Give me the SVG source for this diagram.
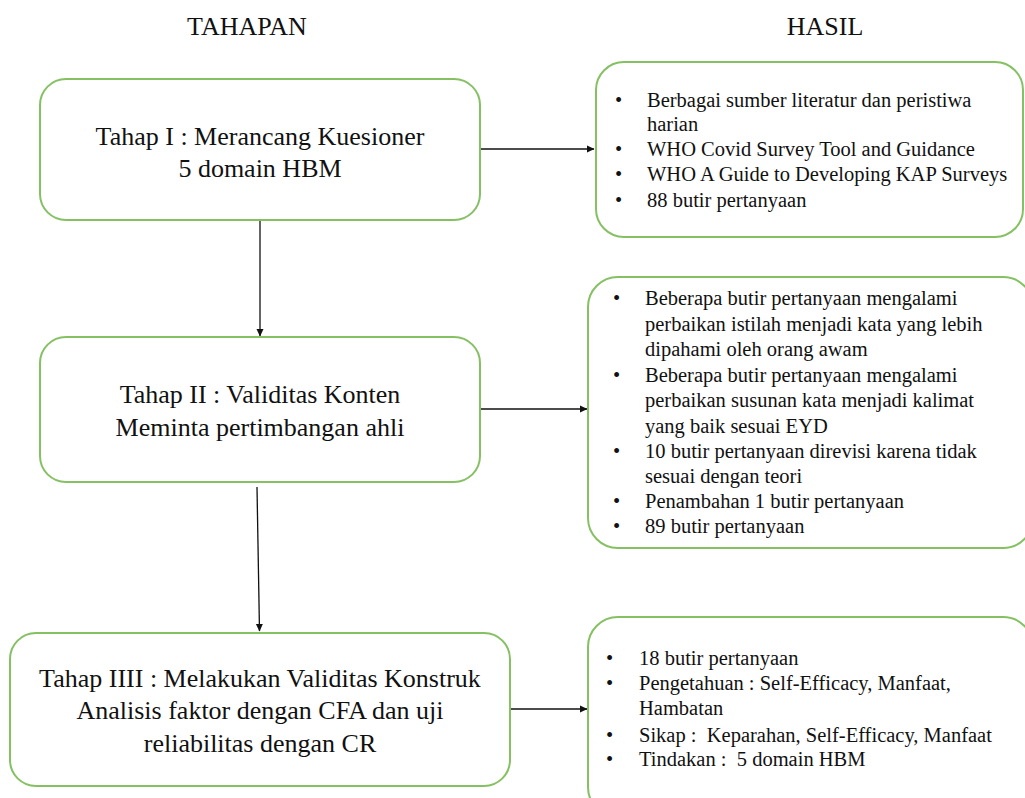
<svg xmlns="http://www.w3.org/2000/svg" width="1025" height="798" viewBox="0 0 1025 798">
<style>
.box{fill:#fff;stroke:#85c063;stroke-width:2}
.t{font-family:"Liberation Serif","Times New Roman",serif;fill:#111;white-space:pre}
.c{font-size:26px;text-anchor:middle}
.r{font-size:20.5px}
.h{font-size:26px;text-anchor:middle}
.ln{stroke:#111;stroke-width:1.3;fill:none;marker-end:url(#ah)}
</style>
<defs>
<marker id="ah" markerWidth="8" markerHeight="8" refX="7" refY="4" orient="auto" markerUnits="userSpaceOnUse">
<path d="M0,0.5 L7.5,4 L0,7.5 Z" fill="#111"/>
</marker>
</defs>
<rect width="1025" height="798" fill="#fff"/>
<g id="headers">
<text class="t h" x="247" y="35">TAHAPAN</text>
<text class="t h" x="825" y="35">HASIL</text>
</g>
<g id="connectors">
<line class="ln" x1="480" y1="149" x2="594" y2="149"/>
<line class="ln" x1="260" y1="220" x2="260" y2="336"/>
<line class="ln" x1="480" y1="409" x2="587" y2="409"/>
<line class="ln" x1="257" y1="487" x2="259.5" y2="631"/>
<line class="ln" x1="510" y1="709" x2="587" y2="709"/>
</g>
<g id="tahap1">
<rect class="box" x="40" y="79" width="440" height="141" rx="26"/>
<text class="t c" x="260" y="145">Tahap I : Merancang Kuesioner</text>
<text class="t c" x="260" y="177">5 domain HBM</text>
</g>
<g id="tahap2">
<rect class="box" x="40" y="337" width="440" height="145" rx="26"/>
<text class="t c" x="260" y="403">Tahap II : Validitas Konten</text>
<text class="t c" x="260" y="436">Meminta pertimbangan ahli</text>
</g>
<g id="tahap3">
<rect class="box" x="10" y="633" width="500" height="153" rx="26"/>
<text class="t c" x="260" y="687">Tahap IIII : Melakukan Validitas Konstruk</text>
<text class="t c" x="260" y="719">Analisis faktor dengan CFA dan uji</text>
<text class="t c" x="260" y="752">reliabilitas dengan CR</text>
</g>
<g id="hasil1">
<rect class="box" x="596" y="62" width="427" height="175" rx="28"/>
<g class="t r">
<text x="615" y="107">•</text><text x="647" y="107">Berbagai sumber literatur dan peristiwa</text>
<text x="647" y="131">harian</text>
<text x="615" y="156">•</text><text x="647" y="156">WHO Covid Survey Tool and Guidance</text>
<text x="615" y="181">•</text><text x="647" y="181">WHO A Guide to Developing KAP Surveys</text>
<text x="615" y="207">•</text><text x="647" y="207">88 butir pertanyaan</text>
</g>
</g>
<g id="hasil2">
<rect class="box" x="588" y="277" width="445" height="271" rx="30"/>
<g class="t r">
<text x="613" y="305">•</text><text x="645" y="305">Beberapa butir pertanyaan mengalami</text>
<text x="645" y="331">perbaikan istilah menjadi kata yang lebih</text>
<text x="645" y="356">dipahami oleh orang awam</text>
<text x="613" y="382">•</text><text x="645" y="382">Beberapa butir pertanyaan mengalami</text>
<text x="645" y="407">perbaikan susunan kata menjadi kalimat</text>
<text x="645" y="433">yang baik sesuai EYD</text>
<text x="613" y="458">•</text><text x="645" y="458">10 butir pertanyaan direvisi karena tidak</text>
<text x="645" y="483">sesuai dengan teori</text>
<text x="613" y="508">•</text><text x="645" y="508">Penambahan 1 butir pertanyaan</text>
<text x="613" y="533">•</text><text x="645" y="533">89 butir pertanyaan</text>
</g>
</g>
<g id="hasil3">
<rect class="box" x="588" y="617" width="445" height="200" rx="30"/>
<g class="t r">
<text x="606" y="665">•</text><text x="639" y="665">18 butir pertanyaan</text>
<text x="606" y="690">•</text><text x="639" y="690">Pengetahuan : Self-Efficacy, Manfaat,</text>
<text x="639" y="715">Hambatan</text>
<text x="606" y="742">•</text><text x="639" y="742" xml:space="preserve">Sikap :  Keparahan, Self-Efficacy, Manfaat</text>
<text x="606" y="766">•</text><text x="639" y="766" xml:space="preserve">Tindakan :  5 domain HBM</text>
</g>
</g>
</svg>
